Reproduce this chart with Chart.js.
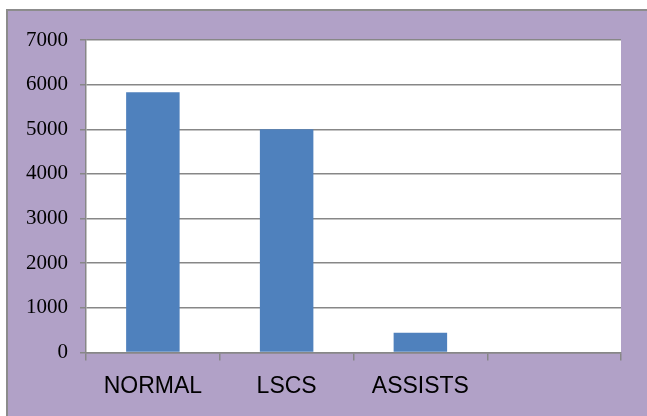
<!DOCTYPE html>
<html>
<head>
<meta charset="utf-8">
<script src="https://cdn.jsdelivr.net/npm/chart.js@4/dist/chart.umd.min.js"></script>
<style>
  html, body { margin:0; padding:0; background:#fff; width:647px; height:416px; overflow:hidden; }
  .frame { position:absolute; left:6px; top:9px; width:660px; height:420px; background:#B1A1C7; border-left:2px solid #8c8c8c; border-top:2px solid #8c8c8c; }
  .wrap { position:absolute; left:0; top:0; width:647px; height:416px; }
</style>
</head>
<body>
<div class="frame"></div>
<div class="wrap"><canvas id="deliveryChart" width="647" height="416"></canvas></div>
<script>
// 分娩方式统计
const categories = ['NORMAL', 'LSCS', 'ASSISTS', ''];
const counts = [5830, 5000, 440, null];
const yTicks = [0, 1000, 2000, 3000, 4000, 5000, 6000, 7000];

// 绘图区白底
const plotBg = {
  id: 'plotBg',
  beforeDraw(chart) {
    const { ctx, chartArea: a } = chart;
    ctx.save();
    ctx.fillStyle = '#fff';
    ctx.fillRect(a.left, a.top, a.right - a.left, a.bottom - a.top);
    ctx.restore();
  }
};

const ctx = document.getElementById('deliveryChart').getContext('2d');
new Chart(ctx, {
  type: 'bar',
  data: {
    labels: categories,
    datasets: [{ data: counts, backgroundColor: '#4F81BD', barPercentage: 0.4, categoryPercentage: 1 }]
  },
  options: {
    responsive: false, animation: false,
    layout: { padding: { left: 14, right: 26, top: 40, bottom: 4 } },
    plugins: { legend: { display: false }, tooltip: { enabled: false } },
    scales: {
      y: {
        min: 0, max: 7000,
        afterBuildTicks: s => { s.ticks = yTicks.map(v => ({ value: v })); },
        ticks: { color: '#000', padding: 12, callback: v => String(v), font: { family: 'Liberation Serif', size: 21 } },
        grid: { color: '#878787', lineWidth: 1.5, tickLength: 6 },
        border: { color: '#878787', width: 1.5 }
      },
      x: {
        ticks: { color: '#000', padding: 12, font: { family: 'Liberation Sans', size: 23 } },
        grid: { offset: true, drawOnChartArea: false, color: '#878787', lineWidth: 1.5, tickLength: 8 },
        border: { color: '#878787', width: 1.5 }
      }
    }
  },
  plugins: [plotBg]
});
</script>
</body>
</html>
